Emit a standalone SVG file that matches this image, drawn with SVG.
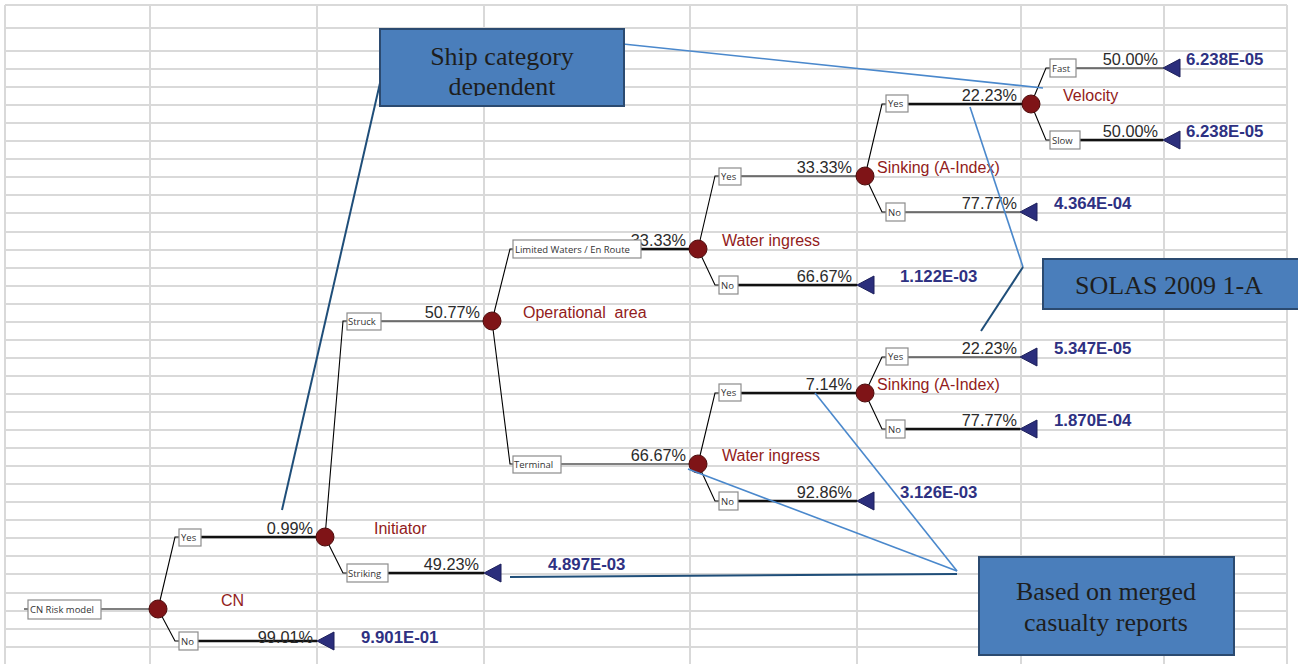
<svg xmlns="http://www.w3.org/2000/svg" width="1298" height="664" viewBox="0 0 1298 664">
<defs>
<style>
.grid{stroke:#d9d9d9;stroke-width:2;fill:none}
.thin{stroke:#000;stroke-width:1.1;fill:none}
.thick{stroke:#111;stroke-width:2.3;fill:none}
.lbox{fill:#fff;stroke:#8c8c8c;stroke-width:1.2}
.ltxt{font-family:"Open Sans","Liberation Sans",sans-serif;font-size:9.5px;fill:#333}
.pct{font-family:"Liberation Sans",Arial,sans-serif;font-size:16.3px;fill:#2b2b2b;text-anchor:end}
.val{font-family:"Liberation Sans",Arial,sans-serif;font-size:16.8px;font-weight:bold;fill:#2e3182}
.red{font-family:"Liberation Sans",Arial,sans-serif;font-size:16px;fill:#921c20}
.node{fill:#7f1417;stroke:#4d0c0c;stroke-width:1}
.tri{fill:#2b2e7c;stroke:#1c1f5a;stroke-width:1}
.call{fill:#4a7ebb;stroke:#2b4a70;stroke-width:2}
.ctxt{font-family:"Liberation Serif","Times New Roman",serif;font-size:26px;fill:#1e1e1e;text-anchor:middle}
.ldark{stroke:#1f4e79;stroke-width:2;fill:none}
.llight{stroke:#4a88cc;stroke-width:1.6;fill:none}
</style>
<clipPath id="clipShip"><rect x="380" y="29" width="244" height="67"/></clipPath>
</defs>
<rect width="1298" height="664" fill="#fff"/>
<g id="grid">
<path class="grid" d="M5,5H1287M5,28H1287M5,51H1287M5,69H1287M5,87H1287M5,105H1287M5,123H1287M5,141H1287M5,159H1287M5,177H1287M5,195H1287M5,213H1287M5,232H1287M5,250H1287M5,268H1287M5,286H1287M5,304H1287M5,322H1287M5,340H1287M5,358H1287M5,376H1287M5,394H1287M5,412H1287M5,430H1287M5,448H1287M5,466H1287M5,484H1287M5,502H1287M5,520H1287M5,538H1287M5,556H1287M5,574H1287M5,593H1287M5,611H1287M5,629H1287M5,647H1287"/>
<path class="grid" d="M5,5V664M150,5V664M317,5V664M484,5V664M690,5V664M857,5V664M1021,5V664M1164,5V664M1287,5V664"/>
</g>
<g id="connectors">
<path class="thin" d="M24,609H28M101,609H158"/>
<path class="thin" d="M158,609L175,537H179"/>
<path class="thick" d="M201,537H325"/>
<path class="thin" d="M158,609L175,641H179"/>
<path class="thick" d="M198,641H317"/>
<path class="thin" d="M325,537L343,321H347"/>
<path class="thin" d="M381,321H492"/>
<path class="thin" d="M325,537L343,573H347"/>
<path class="thick" d="M388,573H484"/>
<path class="thin" d="M492,321L510,249H513"/>
<path class="thick" d="M641,249H698"/>
<path class="thin" d="M492,321L510,464H513"/>
<path class="thin" d="M561,464H698"/>
<path class="thin" d="M698,249L715,176H719"/>
<path class="thin" d="M741,176H865"/>
<path class="thin" d="M698,249L715,285H719"/>
<path class="thick" d="M738,285H857"/>
<path class="thin" d="M865,176L882,104H886"/>
<path class="thick" d="M908,104H1031"/>
<path class="thin" d="M865,176L882,212H886"/>
<path class="thin" d="M905,212H1020"/>
<path class="thin" d="M1031,104L1046,68H1050"/>
<path class="thin" d="M1076,68H1163"/>
<path class="thin" d="M1031,104L1046,140H1050"/>
<path class="thick" d="M1080,140H1163"/>
<path class="thin" d="M698,464L715,393H719"/>
<path class="thick" d="M741,393H865"/>
<path class="thin" d="M698,464L715,501H719"/>
<path class="thick" d="M738,501H857"/>
<path class="thin" d="M865,393L882,357H886"/>
<path class="thin" d="M908,357H1020"/>
<path class="thin" d="M865,393L882,429H886"/>
<path class="thick" d="M905,429H1020"/>
</g>
<g id="percentages">
<text class="pct" x="313" y="534">0.99%</text>
<text class="pct" x="313" y="643">99.01%</text>
<text class="pct" x="480" y="318">50.77%</text>
<text class="pct" x="479" y="570">49.23%</text>
<text class="pct" x="686" y="246">33.33%</text>
<text class="pct" x="686" y="461">66.67%</text>
<text class="pct" x="852" y="173">33.33%</text>
<text class="pct" x="852" y="282">66.67%</text>
<text class="pct" x="1017" y="101">22.23%</text>
<text class="pct" x="1017" y="209">77.77%</text>
<text class="pct" x="1158" y="65">50.00%</text>
<text class="pct" x="1158" y="137">50.00%</text>
<text class="pct" x="852" y="390">7.14%</text>
<text class="pct" x="852" y="498">92.86%</text>
<text class="pct" x="1017" y="354">22.23%</text>
<text class="pct" x="1017" y="426">77.77%</text>
</g>
<g id="branch-labels">
<g id="lb-root"><rect class="lbox" x="28" y="600" width="73" height="19"/><text class="ltxt" x="30" y="613">CN Risk model</text></g>
<g id="lb-cn-yes"><rect class="lbox" x="179" y="529" width="22" height="17"/><text class="ltxt" x="181" y="541">Yes</text></g>
<g id="lb-cn-no"><rect class="lbox" x="179" y="632" width="19" height="18"/><text class="ltxt" x="181" y="645">No</text></g>
<g id="lb-struck"><rect class="lbox" x="347" y="313" width="34" height="17"/><text class="ltxt" x="348" y="325">Struck</text></g>
<g id="lb-striking"><rect class="lbox" x="347" y="564" width="41" height="18"/><text class="ltxt" x="348" y="577">Striking</text></g>
<g id="lb-limited"><rect class="lbox" x="513" y="240" width="128" height="18"/><text class="ltxt" x="515" y="253">Limited Waters / En Route</text></g>
<g id="lb-terminal"><rect class="lbox" x="513" y="456" width="48" height="17"/><text class="ltxt" x="514" y="468">Terminal</text></g>
<g id="lb-wi1-yes"><rect class="lbox" x="719" y="168" width="22" height="17"/><text class="ltxt" x="721" y="180">Yes</text></g>
<g id="lb-wi1-no"><rect class="lbox" x="719" y="276" width="19" height="18"/><text class="ltxt" x="721" y="289">No</text></g>
<g id="lb-s1-yes"><rect class="lbox" x="886" y="95" width="22" height="17"/><text class="ltxt" x="888" y="107">Yes</text></g>
<g id="lb-s1-no"><rect class="lbox" x="886" y="203" width="19" height="18"/><text class="ltxt" x="888" y="216">No</text></g>
<g id="lb-fast"><rect class="lbox" x="1050" y="59" width="26" height="18"/><text class="ltxt" x="1052" y="72">Fast</text></g>
<g id="lb-slow"><rect class="lbox" x="1050" y="131" width="30" height="18"/><text class="ltxt" x="1052" y="144">Slow</text></g>
<g id="lb-wi2-yes"><rect class="lbox" x="719" y="384" width="22" height="17"/><text class="ltxt" x="721" y="396">Yes</text></g>
<g id="lb-wi2-no"><rect class="lbox" x="719" y="492" width="19" height="18"/><text class="ltxt" x="721" y="505">No</text></g>
<g id="lb-s2-yes"><rect class="lbox" x="886" y="348" width="22" height="17"/><text class="ltxt" x="888" y="360">Yes</text></g>
<g id="lb-s2-no"><rect class="lbox" x="886" y="420" width="19" height="18"/><text class="ltxt" x="888" y="433">No</text></g>
</g>
<g id="node-cn"><circle class="node" cx="158" cy="609" r="9"/><text class="red" x="221" y="606">CN</text></g>
<g id="node-initiator"><circle class="node" cx="325" cy="537" r="9"/><text class="red" x="374" y="534">Initiator</text></g>
<g id="node-operational"><circle class="node" cx="492" cy="321" r="9"/><text class="red" x="523" y="318" xml:space="preserve">Operational  area</text></g>
<g id="node-water1"><circle class="node" cx="698" cy="249" r="9"/><text class="red" x="722" y="246">Water ingress</text></g>
<g id="node-water2"><circle class="node" cx="698" cy="464" r="9"/><text class="red" x="722" y="461">Water ingress</text></g>
<g id="node-sinking1"><circle class="node" cx="865" cy="176" r="9"/><text class="red" x="877" y="173">Sinking (A-Index)</text></g>
<g id="node-sinking2"><circle class="node" cx="865" cy="393" r="9"/><text class="red" x="877" y="390">Sinking (A-Index)</text></g>
<g id="node-velocity"><circle class="node" cx="1031" cy="104" r="9"/><text class="red" x="1063" y="101">Velocity</text></g>
<g id="end-cn-no"><polygon class="tri" points="317,641 334,632 334,650"/><text class="val" x="361" y="643">9.901E-01</text></g>
<g id="end-striking"><polygon class="tri" points="484,573 501,564 501,582"/><text class="val" x="548" y="570">4.897E-03</text></g>
<g id="end-wi1-no"><polygon class="tri" points="857,285 874,276 874,294"/><text class="val" x="900" y="282">1.122E-03</text></g>
<g id="end-s1-no"><polygon class="tri" points="1020,212 1037,203 1037,221"/><text class="val" x="1054" y="209">4.364E-04</text></g>
<g id="end-fast"><polygon class="tri" points="1163,68 1180,59 1180,77"/><text class="val" x="1186" y="65">6.238E-05</text></g>
<g id="end-slow"><polygon class="tri" points="1163,140 1180,131 1180,149"/><text class="val" x="1186" y="137">6.238E-05</text></g>
<g id="end-wi2-no"><polygon class="tri" points="857,501 874,492 874,510"/><text class="val" x="900" y="498">3.126E-03</text></g>
<g id="end-s2-yes"><polygon class="tri" points="1020,357 1037,348 1037,366"/><text class="val" x="1054" y="354">5.347E-05</text></g>
<g id="end-s2-no"><polygon class="tri" points="1020,429 1037,420 1037,438"/><text class="val" x="1054" y="426">1.870E-04</text></g>
<g id="callout-lines">
<path class="ldark" d="M383,70L282,510"/>
<path class="llight" d="M623,44L1043,88"/>
<path class="llight" d="M970,107L1023,267"/>
<path class="ldark" d="M1023,267L981,331"/>
<path class="llight" d="M815,393L957,571"/>
<path class="llight" d="M688,469L957,571"/>
<path class="ldark" d="M510,577L957,574"/>
</g>
<g id="callout-ship"><rect class="call" x="380" y="29" width="244" height="77"/><g clip-path="url(#clipShip)"><text class="ctxt" x="502" y="65">Ship category</text><text class="ctxt" x="502" y="95">dependent</text></g></g>
<g id="callout-solas"><rect class="call" x="1043" y="259" width="256" height="50"/><text class="ctxt" x="1169" y="294">SOLAS 2009 1-A</text></g>
<g id="callout-merged"><rect class="call" x="979" y="557" width="255" height="98"/><text class="ctxt" x="1106" y="600">Based on merged</text><text class="ctxt" x="1106" y="631">casualty reports</text></g>
</svg>
